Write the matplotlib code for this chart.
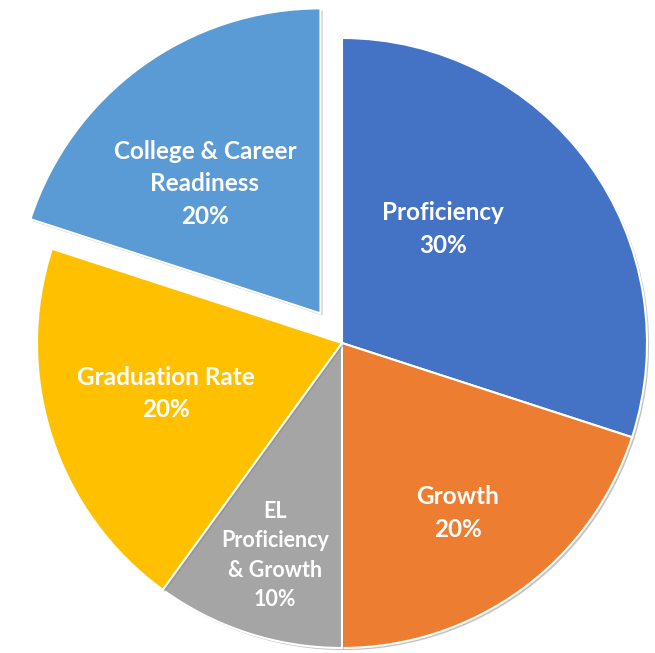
import numpy as np
import matplotlib.pyplot as plt
import matplotlib.patheffects as pe

# Pesos de los componentes del indicador
categorias = ["Proficiency", "Growth", "EL\nProficiency\n& Growth",
              "Graduation Rate", "College & Career\nReadiness"]
pesos = [30, 20, 10, 20, 20]
colores = ["#4472C4", "#ED7D31", "#A5A5A5", "#FFC000", "#5B9BD5"]
separacion = [0, 0, 0, 0, 0.12]   # fracción del radio

# posición de cada etiqueta: (fracción del radio, ángulo en grados)
pos_etq = [(0.50, 48.5), (0.675, -55.7), (0.73, -107.5), (0.60, -164.0), (0.57, 131.7)]
tam_etq = [17.5, 17.5, 15.5, 17.5, 17.5]
interlineado = [1.5, 1.5, 1.5, 1.5, 1.5]

W, H = 655, 653
cx, cy, R = 342, 310, 305

fig = plt.figure(figsize=(W / 100, H / 100), dpi=100)
ax = fig.add_axes([0, 0, 1, 1])

# explode de matplotlib no escala con el radio
cuñas, _ = ax.pie(pesos, colors=colores, startangle=90, counterclock=False,
                  explode=[s * R for s in separacion], radius=R, center=(cx, cy),
                  wedgeprops=dict(edgecolor="white", linewidth=1.5))

for w in cuñas:
    w.set_path_effects([pe.SimplePatchShadow(offset=(1.5, -1.5), shadow_rgbFace="#888888", alpha=0.5),
                        pe.Normal()])

for w, txt, p, (fr, ang), fs, ls in zip(cuñas, categorias, pesos, pos_etq, tam_etq, interlineado):
    # centro real de la cuña (las separadas se desplazan)
    x0, y0 = w.center
    a = np.deg2rad(ang)
    ax.text(x0 + fr * R * np.cos(a), y0 + fr * R * np.sin(a), f"{txt}\n{p}%",
            ha="center", va="center", color="white", fontsize=fs,
            fontweight="bold", family="Lato", linespacing=ls)

ax.set_xlim(0, W)
ax.set_ylim(0, H)
ax.set_aspect("equal")
ax.axis("off")

fig.savefig("out.png", dpi=100, facecolor="white")
